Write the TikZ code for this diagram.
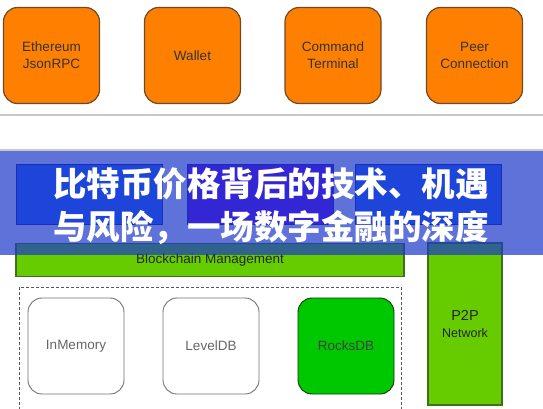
\documentclass[tikz,border=0pt]{standalone}
\usepackage{fontspec}
\setmainfont{Liberation Sans}
\newfontfamily\cjk{Noto Sans CJK SC}
\definecolor{orangefill}{HTML}{FF8000}
\definecolor{orangeedge}{HTML}{6B4A2A}
\definecolor{boxA}{RGB}{40,105,255}
\definecolor{boxB}{RGB}{113,0,237}
\definecolor{boxedge}{RGB}{20,30,120}
\definecolor{greenfill}{HTML}{66CC00}
\definecolor{greenedge}{HTML}{3F6F1A}
\definecolor{rocks}{HTML}{00C800}
\definecolor{bandcol}{RGB}{26,55,202}
\definecolor{seplinecol}{HTML}{C8C8C8}
\tikzset{
  orangebox/.style={draw=orangeedge, line width=1.2pt, fill=orangefill, rounded corners=14pt, minimum width=96pt, minimum height=96pt, align=center, font=\fontsize{13.5}{17}\selectfont, text=black!80, inner sep=0pt},
  bluebox/.style={draw=boxedge, line width=1pt, minimum width=146pt, minimum height=60pt, inner sep=0pt},
  greenbar/.style={draw=greenedge, line width=1.2pt, fill=greenfill, inner sep=0pt, font=\fontsize{13.5}{17}\selectfont, text=black!85, align=center},
  storebox/.style={draw=black!55, line width=0.9pt, rounded corners=14pt, minimum width=96pt, minimum height=96pt, font=\fontsize{13.5}{17}\selectfont, inner sep=0pt},
  sepline/.style={draw=seplinecol, line width=2pt},
  banner/.style={fill=bandcol, fill opacity=0.7, draw=none},
  bannertext/.style={text=white, font=\cjk\bfseries\fontsize{33.5}{44}\selectfont, anchor=west, inner sep=0pt}
}
\begin{document}
\begin{tikzpicture}[x=1pt, y=-1pt]
\useasboundingbox (0,0) rectangle (543,408);
\clip (0,0) rectangle (543,408);
\fill[white] (0,0) rectangle (543,408);
% top orange boxes
\node[orangebox] (eth) at (51.5,55.5) {Ethereum\\JsonRPC};
\node[orangebox] (wal) at (192.5,55.5) {Wallet};
\node[orangebox] (cmd) at (333,55.5) {Command\\Terminal};
\node[orangebox] (peer) at (474.5,55.5) {Peer\\Connection};
% separators
\draw[sepline] (0,115) -- (543,115);
\draw[sepline] (0,149.5) -- (543,149.5);
% blue boxes
\node[bluebox, fill=boxA] (ba) at (89.5,194) {};
\node[bluebox, fill=boxB] (bb) at (260,194) {};
\node[bluebox, fill=boxA] (bc) at (428.5,194) {};
% green bars
\node[greenbar, minimum width=388pt, minimum height=33pt] (bcm) at (210,260) {Blockchain Management};
\node[greenbar, minimum width=74pt, minimum height=162pt] (p2p) at (465,324) {\fontsize{14.5}{17}\selectfont P2P\\\fontsize{12.5}{15}\selectfont Network};
% storage group
\draw[dashed, black!65, line width=0.9pt, dash pattern=on 3pt off 2pt] (19,287) rectangle (401,420);
\node[storebox, text=black!60] (mem) at (76,346) {InMemory};
\node[storebox, text=black!60] (lvl) at (211,346) {LevelDB};
\node[storebox, fill=rocks, draw=black!70!rocks, text=black!75] (rdb) at (346,346) {RocksDB};
% banner overlay
\fill[banner] (0,151) rectangle (543,255);
\node[bannertext] (t1) at (53,184) {比特币价格背后的技术、机遇};
\node[bannertext] (t2) at (53,228) {与风险，一场数字金融的深度};
\end{tikzpicture}
\end{document}
